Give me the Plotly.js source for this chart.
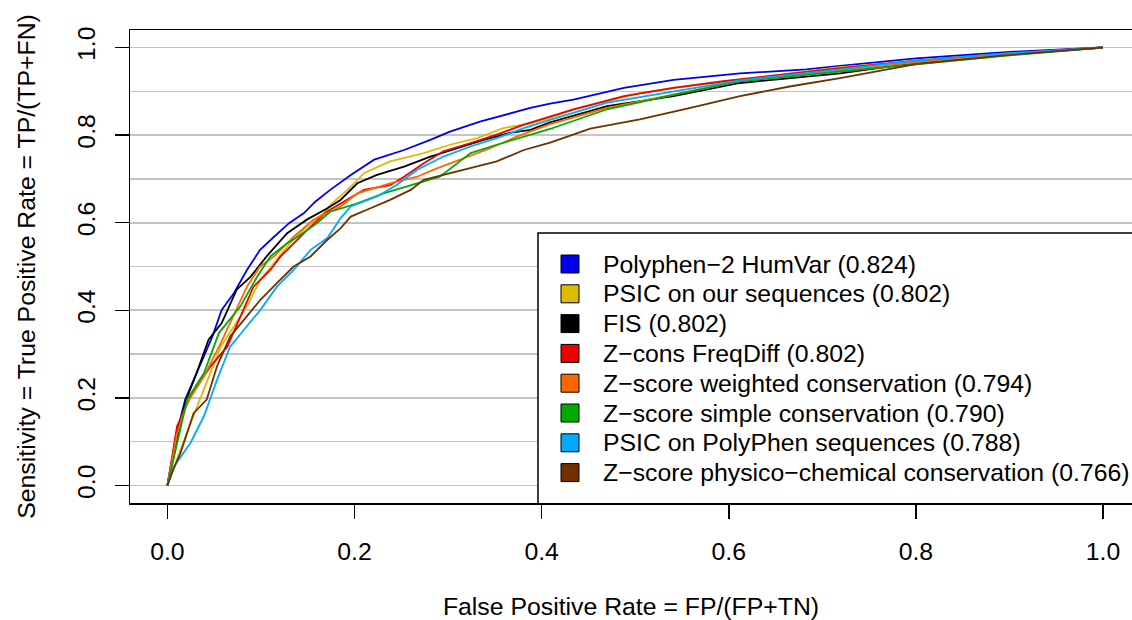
<!DOCTYPE html>
<html><head><meta charset="utf-8">
<script src="https://cdn.plot.ly/plotly-3.0.1.min.js"></script>
<style>html,body{margin:0;padding:0;background:#fff}</style>
</head><body>
<div id="chart" style="width:1132px;height:620px"></div>
<script>
// ---- data ----
const seriesNames = [
  "Polyphen\u22122 HumVar",
  "PSIC on our sequences",
  "FIS",
  "Z\u2212cons FreqDiff",
  "Z\u2212score weighted conservation",
  "Z\u2212score simple conservation",
  "PSIC on PolyPhen sequences",
  "Z\u2212score physico\u2212chemical conservation"
];
const aucValues = ["0.824","0.802","0.802","0.802","0.794","0.790","0.788","0.766"];
const seriesColors = ["#0000EE","#DDBB00","#000000","#EE0000","#FF6600","#00AA00","#00AAFF","#703000"];

const fprPolyphen2 = [0,0.005,0.01,0.019,0.028,0.039,0.048,0.058,0.071,0.085,0.099,0.114,0.130,0.146,0.158,0.174,0.196,0.221,0.253,0.281,0.302,0.334,0.366,0.388,0.409,0.434,0.488,0.541,0.612,0.683,0.719,0.8,0.9,1.0];
const tprPolyphen2 = [0,0.06,0.12,0.196,0.241,0.295,0.340,0.401,0.439,0.492,0.538,0.568,0.599,0.622,0.648,0.675,0.709,0.744,0.766,0.789,0.808,0.831,0.850,0.862,0.872,0.881,0.908,0.926,0.941,0.950,0.958,0.975,0.990,1.0];

const fprPsicOur = [0,0.005,0.0139,0.0317,0.046,0.057,0.071,0.085,0.0994,0.1136,0.131,0.149,0.167,0.174,0.196,0.210,0.238,0.274,0.302,0.331,0.359,0.388,0.409,0.434,0.505,0.541,0.612,0.719,0.8,0.9,1.0];
const tprPsicOur = [0,0.03,0.081,0.180,0.256,0.317,0.363,0.409,0.470,0.508,0.553,0.591,0.622,0.640,0.682,0.713,0.740,0.759,0.778,0.793,0.816,0.827,0.839,0.858,0.896,0.908,0.927,0.955,0.968,0.985,1.0];

const fprFis = [0,0.005,0.01,0.019,0.03,0.044,0.058,0.074,0.089,0.106,0.128,0.149,0.171,0.185,0.203,0.224,0.253,0.281,0.310,0.338,0.366,0.388,0.409,0.470,0.541,0.612,0.719,0.8,0.9,1.0];
const tprFis = [0,0.05,0.10,0.19,0.25,0.333,0.371,0.447,0.477,0.523,0.576,0.607,0.633,0.652,0.690,0.709,0.728,0.751,0.770,0.789,0.805,0.812,0.829,0.866,0.889,0.919,0.941,0.965,0.985,1.0];

const fprZcons = [0,0.005,0.0103,0.0246,0.046,0.064,0.078,0.092,0.110,0.121,0.135,0.153,0.171,0.188,0.210,0.238,0.253,0.274,0.295,0.324,0.352,0.381,0.409,0.434,0.488,0.541,0.594,0.719,0.8,0.9,1.0];
const tprZcons = [0,0.07,0.135,0.203,0.272,0.317,0.386,0.454,0.492,0.523,0.553,0.591,0.626,0.648,0.675,0.686,0.705,0.736,0.763,0.782,0.801,0.824,0.843,0.859,0.889,0.908,0.923,0.953,0.970,0.987,1.0];

const fprZweighted = [0,0.0103,0.021,0.039,0.057,0.074,0.085,0.099,0.114,0.135,0.156,0.185,0.203,0.238,0.267,0.288,0.317,0.345,0.374,0.409,0.470,0.541,0.612,0.719,0.8,0.9,1.0];
const tprZweighted = [0,0.119,0.188,0.249,0.325,0.401,0.454,0.500,0.523,0.568,0.607,0.637,0.667,0.690,0.705,0.724,0.747,0.770,0.797,0.825,0.862,0.892,0.923,0.947,0.966,0.985,1.0];

const fprZsimple = [0,0.0068,0.021,0.039,0.055,0.078,0.096,0.110,0.128,0.142,0.160,0.174,0.203,0.231,0.260,0.291,0.310,0.324,0.352,0.381,0.409,0.470,0.541,0.612,0.719,0.8,0.9,1.0];
const tprZsimple = [0,0.066,0.196,0.256,0.348,0.409,0.477,0.523,0.553,0.572,0.599,0.625,0.644,0.667,0.686,0.705,0.736,0.759,0.778,0.797,0.814,0.859,0.892,0.923,0.945,0.963,0.982,1.0];

const fprPsicPoly = [0,0.0068,0.0246,0.039,0.053,0.067,0.0816,0.0994,0.117,0.135,0.153,0.171,0.185,0.196,0.224,0.245,0.267,0.295,0.324,0.352,0.381,0.409,0.470,0.541,0.612,0.719,0.8,0.9,1.0];
const tprPsicPoly = [0,0.043,0.097,0.158,0.241,0.317,0.355,0.401,0.454,0.492,0.538,0.565,0.610,0.637,0.660,0.686,0.721,0.751,0.774,0.793,0.816,0.835,0.874,0.900,0.925,0.950,0.970,0.987,1.0];

const fprZphysico = [0,0.005,0.0139,0.028,0.042,0.053,0.067,0.0816,0.0994,0.117,0.135,0.153,0.171,0.185,0.196,0.217,0.238,0.260,0.274,0.295,0.324,0.352,0.381,0.409,0.452,0.505,0.559,0.612,0.665,0.719,0.8,0.9,1.0];
const tprZphysico = [0,0.03,0.074,0.165,0.196,0.272,0.340,0.378,0.424,0.462,0.500,0.523,0.561,0.587,0.614,0.633,0.652,0.675,0.698,0.709,0.724,0.740,0.766,0.783,0.815,0.836,0.862,0.889,0.911,0.930,0.962,0.983,1.0];

const xTickValues = [0,0.2,0.4,0.6,0.8,1.0];
const xTitle = "False Positive Rate = FP/(FP+TN)";
const yTitle = "Sensitivity = True Positive Rate = TP/(TP+FN)";

// ---- build ----
const fprList = [fprPolyphen2,fprPsicOur,fprFis,fprZcons,fprZweighted,fprZsimple,fprPsicPoly,fprZphysico];
const tprList = [tprPolyphen2,tprPsicOur,tprFis,tprZcons,tprZweighted,tprZsimple,tprPsicPoly,tprZphysico];

const FONT = "Liberation Sans, Arial, Helvetica, sans-serif";
const FS = 24.8;
const W = 1132, H = 620, ML = 130, MR = 0, MT = 30, MB = 117;
const xRange = [-0.04, 1.031], yRange = [-0.04, 1.04];
const pw = W - ML - MR, ph = H - MT - MB;
const px2x = p => xRange[0] + (p - ML) / pw * (xRange[1] - xRange[0]);
const py2y = p => yRange[1] - (p - MT) / ph * (yRange[1] - yRange[0]);

const traces = fprList.map((fx, i) => ({
  type: "scatter", mode: "lines", x: fx, y: tprList[i],
  name: seriesNames[i] + " (" + aucValues[i] + ")",
  line: {color: seriesColors[i], width: 1.8},
  showlegend: false, hoverinfo: "skip"
}));

const shapes = [{
  type: "rect", xref: "x", yref: "y", layer: "above",
  x0: px2x(538), x1: 1.2, y0: -0.1, y1: py2y(233),
  fillcolor: "#ffffff", line: {color: "#000", width: 1.5}
}];
const annotations = [];
const rowTop = 264, rowStep = 29.8;
seriesNames.forEach((n, i) => {
  const cy = rowTop + rowStep * i;
  shapes.push({
    type: "rect", xref: "x", yref: "y", layer: "above",
    x0: px2x(561), x1: px2x(579), y0: py2y(cy + 9), y1: py2y(cy - 9),
    fillcolor: seriesColors[i], line: {color: "#000", width: 1}
  });
  annotations.push({
    xref: "x", yref: "y", x: px2x(601), y: py2y(cy),
    xanchor: "left", yanchor: "middle", showarrow: false,
    text: n + " (" + aucValues[i] + ")",
    font: {family: FONT, size: FS, color: "#000"}
  });
});

const layout = {
  width: W, height: H,
  margin: {l: ML, r: MR, t: MT, b: MB, pad: 0},
  paper_bgcolor: "#fff", plot_bgcolor: "#fff",
  font: {family: FONT, size: FS, color: "#000"},
  showlegend: false,
  xaxis: {
    range: xRange, tickmode: "array", tickvals: xTickValues, tickformat: ".1f",
    ticks: "outside", ticklen: 14, tickwidth: 1.5, tickcolor: "#000",
    showline: true, linecolor: "#000", linewidth: 1.5, mirror: true,
    showgrid: false, zeroline: false,
    tickfont: {family: FONT, size: FS, color: "#000"},
    ticklabelstandoff: 12,
    title: {text: xTitle, font: {family: FONT, size: FS, color: "#000"}, standoff: 33}
  },
  yaxis: {
    range: yRange, tickmode: "linear", tick0: 0, dtick: 0.2, tickformat: ".1f",
    tickangle: -90,
    ticks: "outside", ticklen: 14, tickwidth: 1.5, tickcolor: "#000",
    showline: true, linecolor: "#000", linewidth: 1.5, mirror: false,
    showgrid: true, gridcolor: "#C4C4C4", gridwidth: 1.6, zeroline: false,
    minor: {tick0: 0, dtick: 0.1, showgrid: true, gridcolor: "#C4C4C4", gridwidth: 1.6, ticks: ""},
    tickfont: {family: FONT, size: FS, color: "#000"},
    ticklabelstandoff: 10,
    title: {text: yTitle, font: {family: FONT, size: FS, color: "#000"}, standoff: 30}
  },
  shapes: shapes,
  annotations: annotations
};

Plotly.newPlot("chart", traces, layout, {displayModeBar: false, staticPlot: true});
</script>
</body></html>
